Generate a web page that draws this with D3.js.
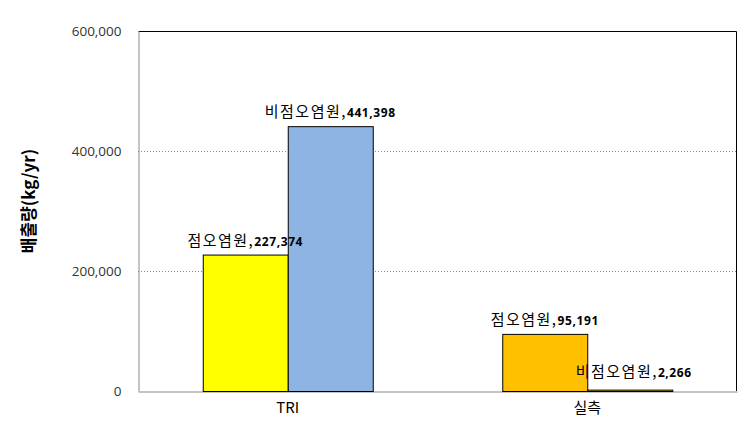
<!DOCTYPE html>
<html>
<head>
<meta charset="utf-8">
<script src="https://cdn.jsdelivr.net/npm/d3@7"></script>
<style>
  body { margin: 0; background: #fff; }
  text { font-family: "Noto Sans CJK KR", "Noto Sans", sans-serif; }
</style>
</head>
<body>
<div id="chart"></div>
<script>
// data
var categories = ["TRI", "실측"];
var seriesNames = ["점오염원", "비점오염원"];
var values = [
  [227374, 441398],
  [95191, 2266]
];
var barColors = [
  ["#FFFF00", "#8EB4E3"],
  ["#FFC000", "#FFC000"]
];
var yTicks = [0, 200000, 400000, 600000];

var margin = { top: 31, right: 16, bottom: 49, left: 138 },
    width = 753 - margin.left - margin.right,
    height = 440 - margin.top - margin.bottom;

var svg = d3.select("#chart")
  .append("svg")
  .attr("width", 753)
  .attr("height", 440)
  .append("g")
  .attr("transform", "translate(" + margin.left + "," + margin.top + ")");

var x = d3.scaleBand()
  .domain(categories)
  .range([0, width])
  .paddingInner(0)
  .paddingOuter(0);

var xSub = d3.scaleBand()
  .domain([0, 1])
  .range([x.bandwidth() / 2 - 85, x.bandwidth() / 2 + 85])
  .padding(0);

var y = d3.scaleLinear()
  .domain([0, 600000])
  .range([height, 0]);

// grid lines
svg.append("g")
  .selectAll("line")
  .data([200000, 400000])
  .enter()
  .append("line")
  .attr("x1", 0)
  .attr("x2", width)
  .attr("y1", d => Math.round(y(d)) + 0.5)
  .attr("y2", d => Math.round(y(d)) + 0.5)
  .style("stroke", "#888")
  .style("stroke-dasharray", "1,2");

// plot border top / right
svg.append("path")
  .attr("d", "M0.5,0.5H" + (width - 0.5) + "V" + height)
  .style("fill", "none")
  .style("stroke", "#000");

// y axis
var yAxis = svg.append("g")
  .attr("transform", "translate(0.5,0)")
  .call(d3.axisLeft(y).tickValues(yTicks).tickFormat(d3.format(",")).tickSize(0).tickPadding(17));
yAxis.select(".domain").style("stroke", "#888");
yAxis.selectAll("text")
  .style("font-size", "13.5px")
  .style("fill", "#333")
  .style("font-family", "'Open Sans', sans-serif");

// x axis
var xAxis = svg.append("g")
  .attr("transform", "translate(0," + (height + 0.5) + ")")
  .call(d3.axisBottom(x).tickSize(0).tickPadding(11));
xAxis.select(".domain").style("stroke", "#888");
xAxis.selectAll("text")
  .style("font-size", "15px")
  .style("fill", "#000");

// y axis title
svg.append("text")
  .attr("transform", "rotate(-90)")
  .attr("x", -height / 2 + 10)
  .attr("y", -103)
  .style("text-anchor", "middle")
  .style("font-size", "17px")
  .style("font-weight", "bold")
  .text("배출량(kg/yr)");

// bars
var groups = svg.selectAll(".grp")
  .data(categories)
  .enter()
  .append("g")
  .attr("transform", d => "translate(" + x(d) + ",0)");

groups.each(function(cat, ci) {
  var g = d3.select(this);
  values[ci].forEach(function(v, si) {
    g.append("rect")
      .attr("x", xSub(si) + 0.5)
      .attr("y", y(v) + 0.5)
      .attr("width", xSub.bandwidth())
      .attr("height", Math.max(0, height - y(v)))
      .style("fill", barColors[ci][si])
      .style("stroke", "#000")
      .style("stroke-width", 1);
  });
});

// data labels, drawn on top of all bars
var labels = svg.append("g");
categories.forEach(function(cat, ci) {
  values[ci].forEach(function(v, si) {
    var last = (ci === 1 && si === 1);
    var lx = x(cat) + xSub(si) + xSub.bandwidth() / 2 + (last ? 4 : 0);
    var ly = y(v) - (last ? 13 : 9);
    var t = labels.append("text")
      .attr("x", lx)
      .attr("y", ly)
      .style("text-anchor", "middle");
    t.append("tspan")
      .style("font-size", "15px")
      .style("letter-spacing", "1.5px")
      .text(seriesNames[si] + ",");
    t.append("tspan")
      .style("font-size", "12px")
      .style("font-weight", "bold")
      .style("letter-spacing", "0.6px")
      .style("font-family", "'Open Sans', sans-serif")
      .text(d3.format(",")(v));
  });
});
</script>
</body>
</html>
